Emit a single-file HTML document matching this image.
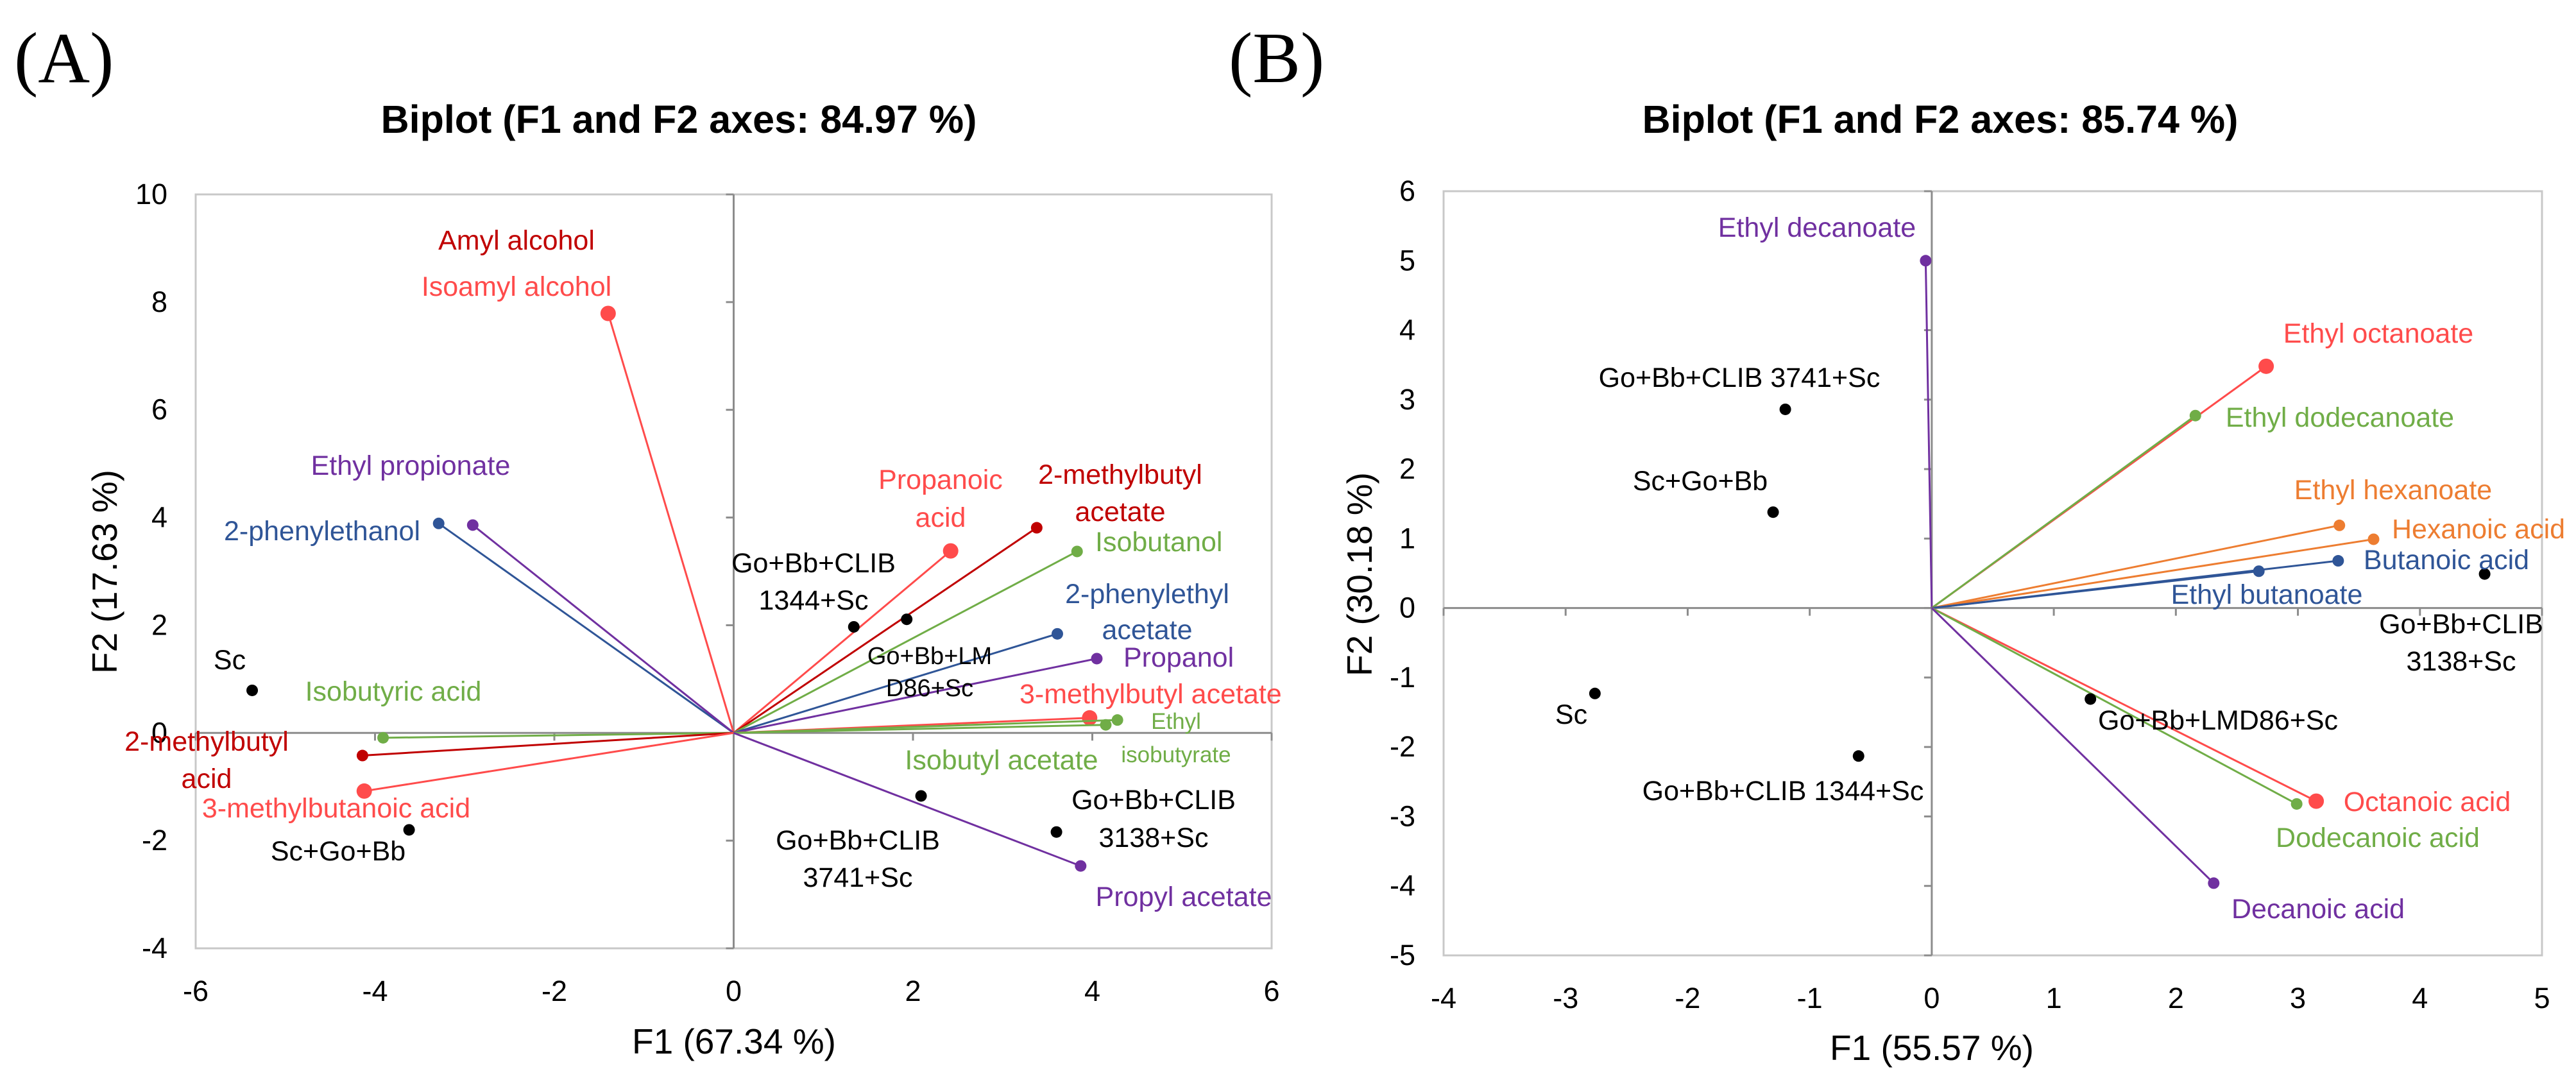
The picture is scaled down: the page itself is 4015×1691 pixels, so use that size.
<!DOCTYPE html>
<html><head><meta charset="utf-8"><style>
html,body{margin:0;padding:0;background:#fff;}
svg{display:block;}
text{font-family:"Liberation Sans",sans-serif;}
</style></head><body>
<svg id="fig" width="4015" height="1691" viewBox="0 0 4015 1691" xmlns="http://www.w3.org/2000/svg">
<text x="22" y="128" style="font-family:'Liberation Serif',serif" font-size="112">(A)</text>
<text x="1915" y="128" style="font-family:'Liberation Serif',serif" font-size="112">(B)</text>
<text x="1058" y="207" text-anchor="middle" font-size="61" font-weight="bold">Biplot (F1 and F2 axes: 84.97 %)</text>
<text x="3024" y="207" text-anchor="middle" font-size="61" font-weight="bold">Biplot (F1 and F2 axes: 85.74 %)</text>
<text x="1144" y="1642" text-anchor="middle" font-size="55">F1 (67.34 %)</text>
<text transform="translate(182,891) rotate(-90)" text-anchor="middle" font-size="55">F2 (17.63 %)</text>
<text x="3011" y="1652" text-anchor="middle" font-size="55">F1 (55.57 %)</text>
<text transform="translate(2138,895) rotate(-90)" text-anchor="middle" font-size="55">F2 (30.18 %)</text>
<g id="ga"></g><g id="gb"></g>
</svg>
<script>
// ---- Chart A data ----
const aXTicks = [-6,-4,-2,0,2,4,6];
const aYTicks = [-4,-2,0,2,4,6,8,10];
const aVarNames = ["Isoamyl alcohol","2-phenylethanol","Ethyl propionate","Isobutyric acid","2-methylbutyl acid","3-methylbutanoic acid","Propanoic acid","2-methylbutyl acetate","Isobutanol","2-phenylethyl acetate","Propanol","3-methylbutyl acetate","Isobutyl acetate","Ethyl isobutyrate","Propyl acetate"];
const aVarX = [-1.40,-3.29,-2.91,-3.91,-4.14,-4.12,2.42,3.38,3.83,3.61,4.05,3.97,4.15,4.28,3.87];
const aVarY = [7.79,3.89,3.86,-0.09,-0.42,-1.08,3.38,3.81,3.37,1.84,1.38,0.28,0.15,0.24,-2.47];
const aVarColor = ["#FF4B4B","#2F5597","#7030A0","#70AD47","#C00000","#FF4B4B","#FF4B4B","#C00000","#70AD47","#2F5597","#7030A0","#FF4B4B","#70AD47","#70AD47","#7030A0"];
const aObsNames = ["Sc","Sc+Go+Bb","Go+Bb+CLIB 1344+Sc","Go+Bb+LMD86+Sc","Go+Bb+CLIB 3741+Sc","Go+Bb+CLIB 3138+Sc"];
const aObsX = [-5.37,-3.62,1.34,1.93,2.09,3.60];
const aObsY = [0.79,-1.80,1.97,2.11,-1.17,-1.84];
// ---- Chart B data ----
const bXTicks = [-4,-3,-2,-1,0,1,2,3,4,5];
const bYTicks = [-5,-4,-3,-2,-1,0,1,2,3,4,5,6];
const bVarNames = ["Ethyl decanoate","Ethyl octanoate","Ethyl dodecanoate","Ethyl hexanoate","Hexanoic acid","Butanoic acid","Ethyl butanoate","Octanoic acid","Dodecanoic acid","Decanoic acid"];
const bVarX = [-0.05,2.74,2.16,3.34,3.62,3.33,2.68,3.15,2.99,2.31];
const bVarY = [5.00,3.48,2.77,1.19,0.99,0.68,0.53,-2.78,-2.82,-3.96];
const bVarColor = ["#7030A0","#FF4B4B","#70AD47","#ED7D31","#ED7D31","#2F5597","#2F5597","#FF4B4B","#70AD47","#7030A0"];
const bObsNames = ["Go+Bb+CLIB 3741+Sc","Sc+Go+Bb","Sc","Go+Bb+CLIB 1344+Sc","Go+Bb+LMD86+Sc","Go+Bb+CLIB 3138+Sc"];
const bObsX = [-1.20,-1.30,-2.76,-0.60,1.30,4.53];
const bObsY = [2.86,1.38,-1.23,-2.13,-1.31,0.49];

const NS="http://www.w3.org/2000/svg";
function mk(parent,tag,attrs){const e=document.createElementNS(NS,tag);for(const k in attrs)e.setAttribute(k,attrs[k]);parent.appendChild(e);return e;}

function drawChart(g,prefix,L,R,T,B,xt,yt,vn,vx,vy,vc,on,ox,oy,labels){
  const xmin=xt[0],xmax=xt[xt.length-1],ymin=yt[0],ymax=yt[yt.length-1];
  const sx=v=>L+(v-xmin)/(xmax-xmin)*(R-L);
  const sy=v=>B-(v-ymin)/(ymax-ymin)*(B-T);
  const frame=mk(g,'rect',{x:L,y:T,width:R-L,height:B-T,fill:'none',stroke:'#c8c8c8','stroke-width':3});
  
  
  const x0=sx(0),y0=sy(0);
  const xa=mk(g,'line',{x1:L,x2:R,y1:y0,y2:y0,stroke:'#8c8c8c','stroke-width':3});
  
  
  const ya=mk(g,'line',{x1:x0,x2:x0,y1:T,y2:B,stroke:'#8c8c8c','stroke-width':3});
  
  
  xt.forEach(v=>{
    mk(g,'line',{x1:sx(v),x2:sx(v),y1:y0,y2:y0+12,stroke:'#8c8c8c','stroke-width':3});
    const t=mk(g,'text',{x:sx(v),y:B+82,'text-anchor':'middle','font-size':45});
    t.textContent=v;
    
    
  });
  yt.forEach(v=>{
    mk(g,'line',{x1:x0-12,x2:x0,y1:sy(v),y2:sy(v),stroke:'#8c8c8c','stroke-width':3});
    const t=mk(g,'text',{x:L-44,y:sy(v)+15,'text-anchor':'end','font-size':45});
    t.textContent=v;
    
    
  });
  vn.forEach((n,i)=>{
    const ln=mk(g,'line',{x1:x0,y1:y0,x2:sx(vx[i]),y2:sy(vy[i]),stroke:vc[i],'stroke-width':3});
    
    
    const big=vc[i]==='#FF4B4B';
    const c=mk(g,'circle',{cx:sx(vx[i]),cy:sy(vy[i]),r:big?12:9,fill:vc[i]});
    
    
  });
  on.forEach((n,i)=>{
    const c=mk(g,'circle',{cx:sx(ox[i]),cy:sy(oy[i]),r:9,fill:'#000'});
    
    
  });
  labels.forEach(l=>{
    const t=mk(g,'text',{x:l[1],y:l[2],fill:l[3],'font-size':l[5]||43,'text-anchor':l[4]||'middle'});
    t.textContent=l[0];
    
    
  });
}
const K="#000",RD="#FF4B4B",DR="#C00000",GR="#70AD47",BL="#2F5597",PU="#7030A0",OR="#ED7D31";
drawChart(document.getElementById('ga'),'chart-a',305,1982,303,1478,aXTicks,aYTicks,aVarNames,aVarX,aVarY,aVarColor,aObsNames,aObsX,aObsY,[
 ["Amyl alcohol",805,389,DR],["Isoamyl alcohol",805,461,RD],["Ethyl propionate",640,740,PU],["2-phenylethanol",502,842,BL],
 ["Propanoic",1466,762,RD],["acid",1466,821,RD],["2-methylbutyl",1746,754,DR],["acetate",1746,812,DR],
 ["Isobutanol",1707,859,GR,"start"],["Go+Bb+CLIB",1268,892,K],["1344+Sc",1268,950,K],
 ["2-phenylethyl",1788,940,BL],["acetate",1788,996,BL],["Go+Bb+LM",1449,1035,K,"middle",38],["D86+Sc",1449,1085,K,"middle",38],
 ["Propanol",1751,1039,PU,"start"],["3-methylbutyl acetate",1589,1096,RD,"start"],["Ethyl",1833,1136,GR,"middle",35],["isobutyrate",1833,1188,GR,"middle",35],
 ["Isobutyl acetate",1561,1199,GR],["Go+Bb+CLIB",1798,1261,K],["3138+Sc",1798,1320,K],["Go+Bb+CLIB",1337,1324,K],["3741+Sc",1337,1382,K],
 ["Propyl acetate",1845,1412,PU],["Sc",358,1043,K],["Isobutyric acid",613,1092,GR],["2-methylbutyl",322,1170,DR],["acid",322,1228,DR],
 ["3-methylbutanoic acid",524,1274,RD],["Sc+Go+Bb",527,1341,K]]);
drawChart(document.getElementById('gb'),'chart-b',2250,3962,298,1489,bXTicks,bYTicks,bVarNames,bVarX,bVarY,bVarColor,bObsNames,bObsX,bObsY,[
 ["Ethyl decanoate",2832,369,PU],["Ethyl octanoate",3707,534,RD],["Ethyl dodecanoate",3647,665,GR],["Ethyl hexanoate",3730,778,OR],
 ["Hexanoic acid",3863,839,OR],["Butanoic acid",3813,887,BL],["Ethyl butanoate",3533,941,BL],["Go+Bb+CLIB",3836,987,K],["3138+Sc",3836,1045,K],
 ["Go+Bb+CLIB 3741+Sc",2711,603,K],["Sc+Go+Bb",2650,764,K],["Sc",2449,1128,K],["Go+Bb+LMD86+Sc",3457,1137,K],["Go+Bb+CLIB 1344+Sc",2779,1247,K],
 ["Octanoic acid",3783,1264,RD],["Dodecanoic acid",3706,1320,GR],["Decanoic acid",3613,1431,PU]]);
</script>
</body></html>
